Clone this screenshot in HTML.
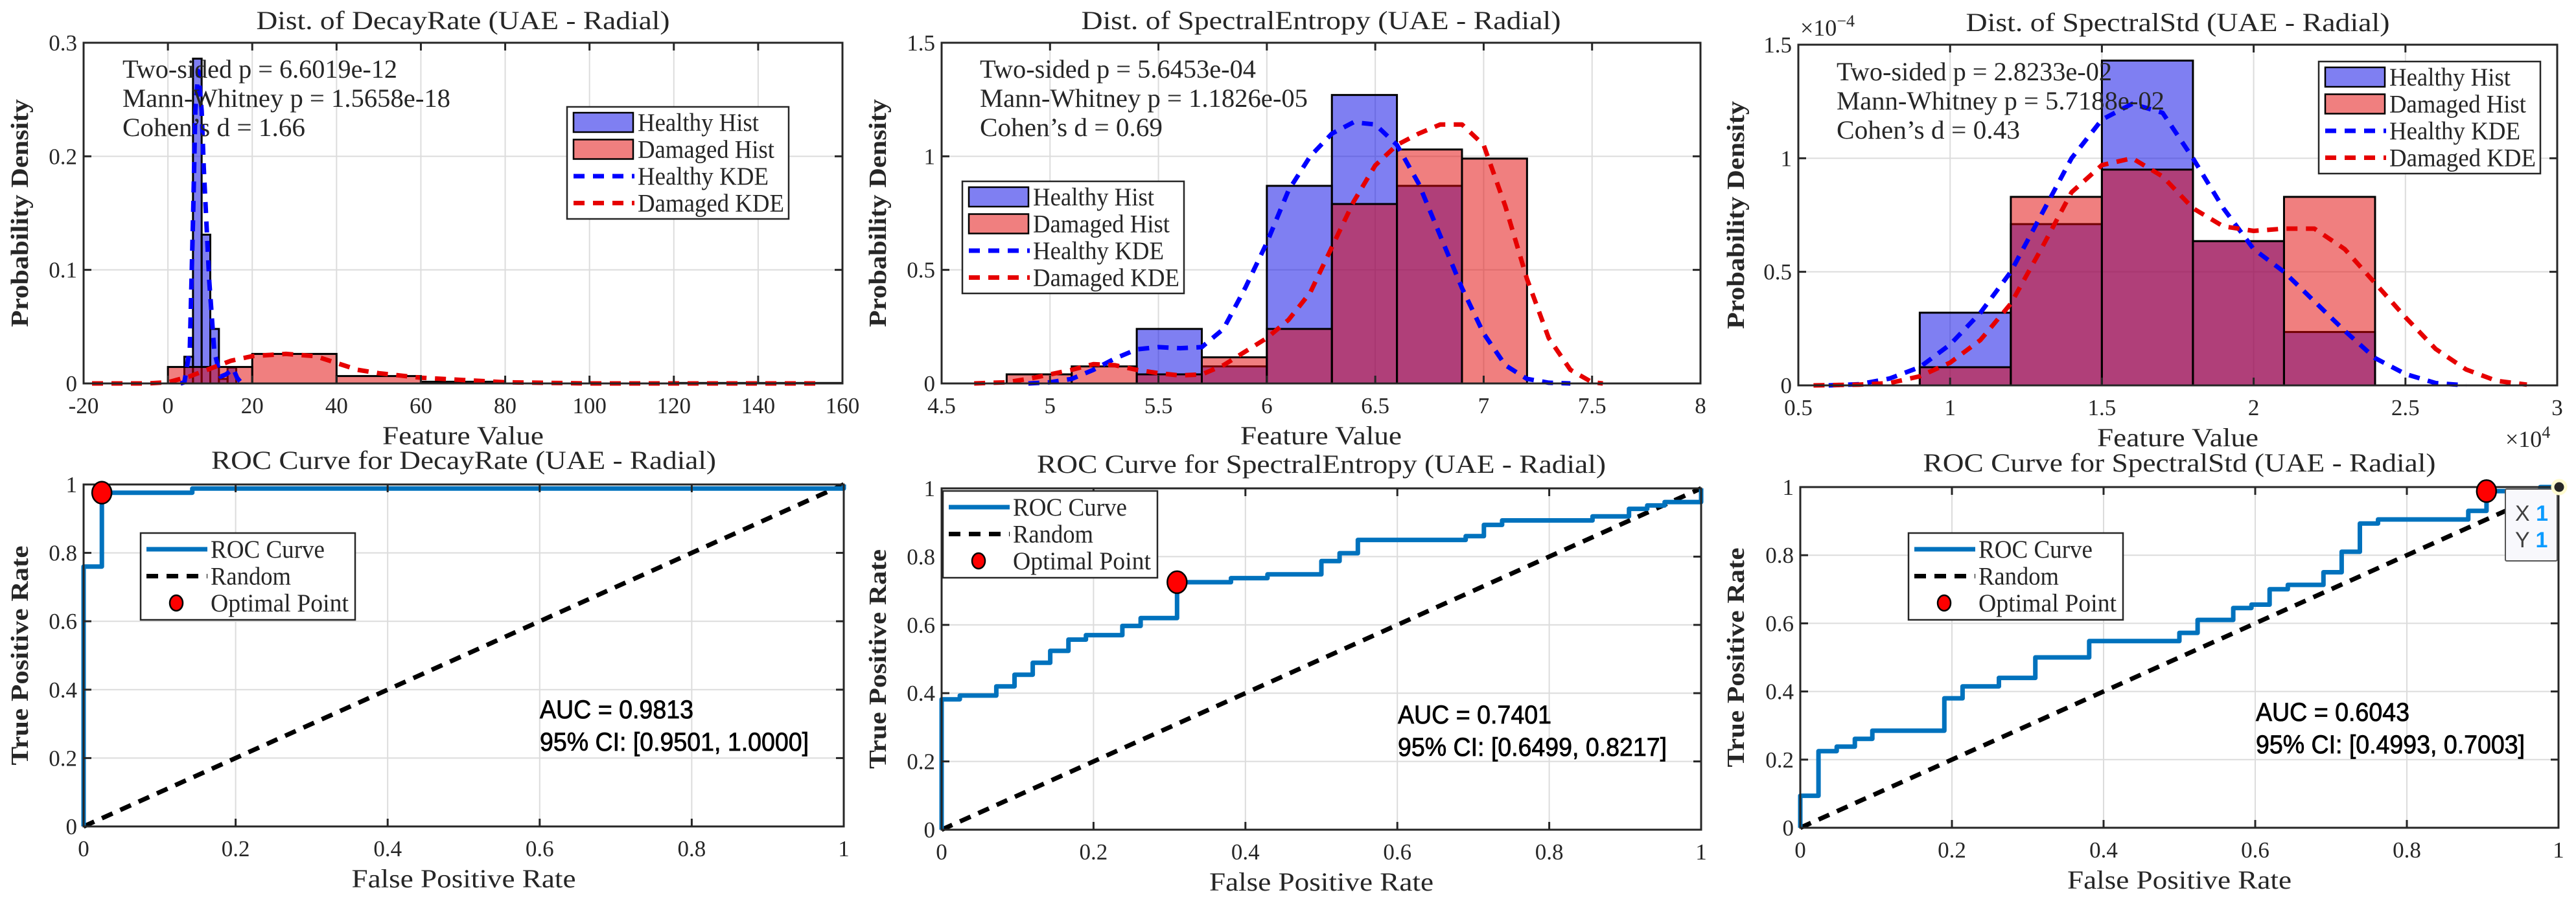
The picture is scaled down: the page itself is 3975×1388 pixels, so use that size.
<!DOCTYPE html>
<html><head><meta charset="utf-8">
<style>
html,body{margin:0;padding:0;background:#fff;}
svg{display:block;}
text{font-family:"Liberation Serif","DejaVu Serif",serif;fill:#262626;}
.sans{font-family:"Liberation Sans","DejaVu Sans",sans-serif;fill:#000;}
</style></head>
<body>
<svg id="fig" width="3975" height="1388" viewBox="0 0 3975 1388" xmlns="http://www.w3.org/2000/svg"></svg>
<script>
// ---------- DATA ----------
// Panel 1: DecayRate
const decayHealthyEdges = [3.9, 5.95, 8.0, 10.05, 12.1, 14.15, 16.2];
const decayHealthyHeights = [0.0235, 0.286, 0.131, 0.048, 0.004, 0.014];
const decayDamagedEdges = [0, 20, 40, 60, 80, 100, 120, 140, 160];
const decayDamagedHeights = [0.0145, 0.026, 0.0065, 0.0015, 0, 0, 0.0004, 0.0004];
const decayHealthyKdeX = [3, 3.9, 5.2, 6.0, 6.5, 7.2, 8.0, 8.5, 9.8, 11, 12.5, 13.8, 15.5, 16.4, 17.5];
const decayHealthyKdeY = [0, 0.001, 0.03, 0.15, 0.24, 0.275, 0.24, 0.19, 0.09, 0.028, 0.006, 0.008, 0.013, 0.005, 0];
const decayDamagedKdeX = [-18, -5, 0, 5, 10, 15, 20, 28, 35, 40, 45, 50, 55, 60, 70, 80, 100, 130, 155];
const decayDamagedKdeY = [0, 0, 0.001, 0.006, 0.013, 0.02, 0.024, 0.026, 0.024, 0.018, 0.012, 0.009, 0.007, 0.005, 0.003, 0.001, 0, 0, 0];
// Panel 2: SpectralEntropy
const entropyEdges = [4.8, 5.1, 5.4, 5.7, 6.0, 6.3, 6.6, 6.9, 7.2];
const entropyHealthyHeights = [0, 0, 0.24, 0.075, 0.87, 1.27, 0.87, 0];
const entropyDamagedHeights = [0.04, 0.075, 0.04, 0.115, 0.24, 0.79, 1.03, 0.99];
const entropyHealthyKdeX = [4.9, 5.0, 5.1, 5.2, 5.3, 5.4, 5.5, 5.6, 5.7, 5.8, 5.9, 6.0, 6.1, 6.2, 6.3, 6.4, 6.5, 6.6, 6.7, 6.8, 6.9, 7.0, 7.1, 7.2, 7.3, 7.4];
const entropyHealthyKdeY = [0, 0.005, 0.02, 0.06, 0.11, 0.15, 0.16, 0.155, 0.16, 0.24, 0.42, 0.62, 0.85, 1.0, 1.1, 1.15, 1.14, 1.05, 0.88, 0.65, 0.42, 0.22, 0.08, 0.02, 0.003, 0];
const entropyDamagedKdeX = [4.65, 4.8, 4.9, 5.0, 5.1, 5.2, 5.3, 5.4, 5.5, 5.6, 5.7, 5.8, 5.9, 6.0, 6.1, 6.2, 6.3, 6.4, 6.5, 6.6, 6.7, 6.8, 6.9, 7.0, 7.1, 7.2, 7.3, 7.4, 7.5, 7.55];
const entropyDamagedKdeY = [0, 0.005, 0.02, 0.04, 0.06, 0.085, 0.08, 0.06, 0.045, 0.035, 0.04, 0.08, 0.14, 0.2, 0.28, 0.4, 0.6, 0.8, 0.96, 1.05, 1.1, 1.14, 1.14, 1.05, 0.78, 0.46, 0.2, 0.06, 0.005, 0];
// Panel 3: SpectralStd (x in 1e4, y in 1e-4)
const stdEdges = [0.9, 1.2, 1.5, 1.8, 2.1, 2.4];
const stdHealthyHeights = [0.32, 0.71, 1.43, 0.635, 0.235];
const stdDamagedHeights = [0.08, 0.83, 0.95, 0.635, 0.83];
const stdHealthyKdeX = [0.6, 0.7, 0.8, 0.9, 1.0, 1.1, 1.2, 1.3, 1.4, 1.5, 1.6, 1.7, 1.8, 1.9, 2.0, 2.1, 2.2, 2.3, 2.4, 2.5, 2.6, 2.7];
const stdHealthyKdeY = [0, 0.005, 0.03, 0.08, 0.18, 0.32, 0.5, 0.75, 1.0, 1.17, 1.24, 1.2, 1.0, 0.78, 0.6, 0.5, 0.37, 0.24, 0.12, 0.05, 0.01, 0];
const stdDamagedKdeX = [0.55, 0.7, 0.8, 0.9, 1.0, 1.1, 1.2, 1.3, 1.4, 1.5, 1.6, 1.7, 1.8, 1.9, 2.0, 2.1, 2.2, 2.3, 2.4, 2.5, 2.6, 2.7, 2.8, 2.9];
const stdDamagedKdeY = [0, 0.003, 0.01, 0.04, 0.1, 0.2, 0.36, 0.6, 0.85, 0.97, 1.0, 0.92, 0.78, 0.7, 0.68, 0.69, 0.69, 0.6, 0.45, 0.3, 0.16, 0.07, 0.02, 0.003];
// ROC curves
const rocDecayFpr = [0, 0, 0.024, 0.024, 0.143, 0.143, 1, 1];
const rocDecayTpr = [0, 0.76, 0.76, 0.976, 0.976, 0.988, 0.988, 1];
const rocDecayOpt = [0.024, 0.976];
const rocEntropyFpr = [0, 0, 0.024, 0.024, 0.072, 0.072, 0.096, 0.096, 0.12, 0.12, 0.143, 0.143, 0.167, 0.167, 0.19, 0.19, 0.238, 0.238, 0.262, 0.262, 0.31, 0.31, 0.381, 0.381, 0.429, 0.429, 0.5, 0.5, 0.524, 0.524, 0.548, 0.548, 0.69, 0.69, 0.714, 0.714, 0.738, 0.738, 0.857, 0.857, 0.905, 0.905, 0.929, 0.929, 0.952, 0.952, 1, 1];
const rocEntropyTpr = [0, 0.382, 0.382, 0.393, 0.393, 0.42, 0.42, 0.454, 0.454, 0.489, 0.489, 0.524, 0.524, 0.557, 0.557, 0.57, 0.57, 0.597, 0.597, 0.62, 0.62, 0.725, 0.725, 0.737, 0.737, 0.748, 0.748, 0.787, 0.787, 0.81, 0.81, 0.849, 0.849, 0.86, 0.86, 0.893, 0.893, 0.906, 0.906, 0.918, 0.918, 0.94, 0.94, 0.95, 0.95, 0.96, 0.96, 1];
const rocEntropyOpt = [0.31, 0.725];
const rocStdFpr = [0, 0, 0.024, 0.024, 0.048, 0.048, 0.072, 0.072, 0.095, 0.095, 0.19, 0.19, 0.214, 0.214, 0.262, 0.262, 0.31, 0.31, 0.381, 0.381, 0.5, 0.5, 0.524, 0.524, 0.571, 0.571, 0.595, 0.595, 0.619, 0.619, 0.643, 0.643, 0.69, 0.69, 0.714, 0.714, 0.738, 0.738, 0.762, 0.762, 0.881, 0.881, 0.905, 0.905, 0.976, 0.976, 1];
const rocStdTpr = [0, 0.094, 0.094, 0.225, 0.225, 0.238, 0.238, 0.261, 0.261, 0.285, 0.285, 0.38, 0.38, 0.415, 0.415, 0.44, 0.44, 0.5, 0.5, 0.548, 0.548, 0.572, 0.572, 0.61, 0.61, 0.645, 0.645, 0.655, 0.655, 0.7, 0.7, 0.713, 0.713, 0.75, 0.75, 0.81, 0.81, 0.893, 0.893, 0.905, 0.905, 0.93, 0.93, 0.988, 0.988, 1, 1];
const rocStdOpt = [0.905, 0.988];
// Tick values
const decayXTicks = [-20, 0, 20, 40, 60, 80, 100, 120, 140, 160];
const decayYTicks = [0, 0.1, 0.2, 0.3];
const entropyXTicks = [4.5, 5, 5.5, 6, 6.5, 7, 7.5, 8];
const entropyYTicks = [0, 0.5, 1, 1.5];
const stdXTicks = [0.5, 1, 1.5, 2, 2.5, 3];
const stdYTicks = [0, 0.5, 1, 1.5];
const rocTicks = [0, 0.2, 0.4, 0.6, 0.8, 1];

// ---------- DRAWING ----------
const NS = 'http://www.w3.org/2000/svg';
const fig = document.getElementById('fig');
function mk(tag, attrs, parent) {
  const e = document.createElementNS(NS, tag);
  for (const k in attrs) e.setAttribute(k, attrs[k]);
  (parent || fig).appendChild(e);
  return e;
}
function txt(parent, x, y, s, size, anchor, extra) {
  const t = mk('text', Object.assign({x: x, y: y, 'font-size': size, 'text-anchor': anchor || 'start'}, extra || {}), parent);
  t.textContent = s;
  return t;
}
function fmt(v) { return String(+v.toFixed(4)); }

function makeAxes(name, g) {
  const grp = mk('g', {});
  
  
  const sx = v => g.L + (v - g.xmin) / (g.xmax - g.xmin) * (g.R - g.L);
  const sy = v => g.B - (v - g.ymin) / (g.ymax - g.ymin) * (g.B - g.T);
  g.xt.forEach(v => {
    const l = mk('line', {x1: sx(v), x2: sx(v), y1: g.T, y2: g.B, stroke: '#dcdcdc', 'stroke-width': 2}, grp);
    
    
  });
  g.yt.forEach(v => {
    const l = mk('line', {x1: g.L, x2: g.R, y1: sy(v), y2: sy(v), stroke: '#dcdcdc', 'stroke-width': 2}, grp);
    
    
  });
  const plot = mk('g', {}, grp);
  
  
  const top = mk('g', {}, grp);
  
  
  return {grp, plot, top, sx, sy, g};
}
function finishAxes(ax, labels) {
  const g = ax.g, top = ax.top, sx = ax.sx, sy = ax.sy;
  const box = mk('rect', {x: g.L, y: g.T, width: g.R - g.L, height: g.B - g.T, fill: 'none', stroke: '#262626', 'stroke-width': 3}, top);
  
  
  g.xt.forEach(v => {
    mk('line', {x1: sx(v), x2: sx(v), y1: g.B, y2: g.B - 12, stroke: '#262626', 'stroke-width': 3}, top);
    mk('line', {x1: sx(v), x2: sx(v), y1: g.T, y2: g.T + 12, stroke: '#262626', 'stroke-width': 3}, top);
    const t = txt(top, sx(v), g.B + 46, fmt(v), 35, 'middle');
    
    
  });
  g.yt.forEach(v => {
    mk('line', {x1: g.L, x2: g.L + 12, y1: sy(v), y2: sy(v), stroke: '#262626', 'stroke-width': 3}, top);
    mk('line', {x1: g.R, x2: g.R - 12, y1: sy(v), y2: sy(v), stroke: '#262626', 'stroke-width': 3}, top);
    const t = txt(top, g.L - 10, sy(v) + 12, fmt(v), 35, 'end');
    
    
  });
  const cx = (g.L + g.R) / 2;
  const ti = txt(top, cx, g.T - (g.T > 400 ? 24 : 21), labels.title, 40, 'middle', {textLength: labels.tw, lengthAdjust: 'spacingAndGlyphs'});
  
  
  const xl = txt(top, cx, g.B + 94, labels.xlabel, 40, 'middle', {textLength: labels.xw, lengthAdjust: 'spacingAndGlyphs'});
  
  
  const ycx = labels.ylx, ycy = (g.T + g.B) / 2;
  const yl = txt(top, ycx, ycy, labels.ylabel, 38, 'middle', {transform: 'rotate(-90 ' + ycx + ' ' + ycy + ')', 'font-weight': 'bold', textLength: labels.yw, lengthAdjust: 'spacingAndGlyphs', dy: 13});
  
  
}
function hist(ax, edges, heights, fill, name) {
  heights.forEach((h, i) => {
    if (h <= 0) return;
    const x0 = ax.sx(edges[i]), x1 = ax.sx(edges[i + 1]), y = ax.sy(h);
    const r = mk('rect', {x: x0, y: y, width: x1 - x0, height: ax.sy(0) - y, fill: fill, 'fill-opacity': 0.5, stroke: '#000', 'stroke-width': 3}, ax.plot);
    
    
  });
}
function line(ax, xs, ys, color, dash, name, w) {
  const d = xs.map((x, i) => (i ? 'L' : 'M') + ax.sx(x).toFixed(1) + ',' + ax.sy(ys[i]).toFixed(1)).join(' ');
  const p = mk('path', {d: d, fill: 'none', stroke: color, 'stroke-width': w || 7, 'stroke-dasharray': dash || 'none', 'stroke-linejoin': 'round'}, ax.plot);
  
  
  return p;
}
function annot(parent, x, y, lines, widths) {
  lines.forEach((s, i) => {
    const t = txt(parent, x, y + i * 45, s, 40, 'start', {textLength: widths[i], lengthAdjust: 'spacingAndGlyphs'});
    
    
  });
}
function histLegend(parent, L, T) {
  const lg = mk('g', {}, parent);
  
  
  mk('rect', {x: L, y: T, width: 342, height: 173, fill: '#fff', stroke: '#262626', 'stroke-width': 2.5}, lg);
  const items = [['Healthy Hist', 'patch', '#0000e6', 187], ['Damaged Hist', 'patch', '#e10000', 211], ['Healthy KDE', 'line', '#0000ff', 202], ['Damaged KDE', 'line', '#e60000', 226]];
  items.forEach((it, i) => {
    const cy = T + 24 + i * 41.5;
    const e = mk('g', {}, lg);
    
    
    if (it[1] === 'patch') {
      mk('rect', {x: L + 10, y: cy - 15, width: 92, height: 30, fill: it[2], 'fill-opacity': 0.5, stroke: '#000', 'stroke-width': 2.5}, e);
    } else {
      mk('line', {x1: L + 10, x2: L + 104, y1: cy, y2: cy, stroke: it[2], 'stroke-width': 7, 'stroke-dasharray': '17,13'}, e);
    }
    txt(e, L + 109, cy + 13, it[0], 39, 'start', {textLength: it[3], lengthAdjust: 'spacingAndGlyphs'});
  });
}
function rocLegend(parent, L, T) {
  const lg = mk('g', {}, parent);
  
  
  mk('rect', {x: L, y: T, width: 331, height: 134, fill: '#fff', stroke: '#262626', 'stroke-width': 2.5}, lg);
  const items = [['ROC Curve', 176], ['Random', 124], ['Optimal Point', 213]];
  items.forEach((it, i) => {
    const cy = T + 25 + i * 41.5;
    const e = mk('g', {}, lg);
    
    
    if (i === 0) mk('line', {x1: L + 9, x2: L + 103, y1: cy, y2: cy, stroke: '#0072bd', 'stroke-width': 7}, e);
    if (i === 1) mk('line', {x1: L + 9, x2: L + 103, y1: cy, y2: cy, stroke: '#000', 'stroke-width': 7, 'stroke-dasharray': '18,13'}, e);
    if (i === 2) mk('ellipse', {cx: L + 55, cy: cy, rx: 10, ry: 12, fill: '#ff0000', stroke: '#000', 'stroke-width': 2.5}, e);
    txt(e, L + 108, cy + 13, it[0], 39, 'start', {textLength: it[1], lengthAdjust: 'spacingAndGlyphs'});
  });
}
function auc(parent, x, y, a, b, w1) {
  const t1 = txt(parent, x, y, a, 40, 'start', {'class': 'sans', textLength: w1, lengthAdjust: 'spacingAndGlyphs', 'stroke': '#000', 'stroke-width': 0.8});
  
  
  const t2 = txt(parent, x, y + 50, b, 40, 'start', {'class': 'sans', textLength: 415, lengthAdjust: 'spacingAndGlyphs', 'stroke': '#000', 'stroke-width': 0.8});
  
  
}
function roc(name, g, fpr, tpr, opt, labels, legXY, aucXY, aucText, ciText) {
  const ax = makeAxes(name, g);
  const diag = mk('line', {x1: ax.sx(0), y1: ax.sy(0), x2: ax.sx(1), y2: ax.sy(1), stroke: '#000', 'stroke-width': 7, 'stroke-dasharray': '18,13'}, ax.plot);
  
  
  line(ax, fpr, tpr, '#0072bd', null, 'roc-curve', 7);
  finishAxes(ax, labels);
  const o = mk('ellipse', {cx: ax.sx(opt[0]), cy: ax.sy(opt[1]), rx: 15, ry: 17, fill: '#ff0000', stroke: '#000', 'stroke-width': 2.5}, ax.grp);
  
  
  rocLegend(ax.grp, legXY[0], legXY[1]);
  auc(ax.grp, aucXY[0], aucXY[1], aucText, ciText, 237);
  return ax;
}

// ----- Panel 1 -----
const a1 = makeAxes('decayrate-distribution', {L: 129, R: 1300, T: 66, B: 592, xmin: -20, xmax: 160, ymin: 0, ymax: 0.3, xt: decayXTicks, yt: decayYTicks});
hist(a1, decayHealthyEdges, decayHealthyHeights, '#0000e6', 'healthy-hist-bar');
hist(a1, decayDamagedEdges, decayDamagedHeights, '#e10000', 'damaged-hist-bar');
line(a1, decayHealthyKdeX, decayHealthyKdeY, '#0000ff', '17,13', 'healthy-kde-line');
line(a1, decayDamagedKdeX, decayDamagedKdeY, '#e60000', '17,13', 'damaged-kde-line');
finishAxes(a1, {title: 'Dist. of DecayRate (UAE - Radial)', tw: 638, xlabel: 'Feature Value', xw: 249, ylabel: 'Probability Density', yw: 352, ylx: 30});
annot(a1.grp, 189, 120, ['Two-sided p = 6.6019e-12', 'Mann-Whitney p = 1.5658e-18', 'Cohen\u2019s d = 1.66'], [424, 506, 282]);
histLegend(a1.grp, 875, 165);

// ----- Panel 2 -----
const a2 = makeAxes('spectralentropy-distribution', {L: 1453, R: 2624, T: 66, B: 592, xmin: 4.5, xmax: 8, ymin: 0, ymax: 1.5, xt: entropyXTicks, yt: entropyYTicks});
hist(a2, entropyEdges, entropyHealthyHeights, '#0000e6', 'healthy-hist-bar');
hist(a2, entropyEdges, entropyDamagedHeights, '#e10000', 'damaged-hist-bar');
line(a2, entropyHealthyKdeX, entropyHealthyKdeY, '#0000ff', '17,13', 'healthy-kde-line');
line(a2, entropyDamagedKdeX, entropyDamagedKdeY, '#e60000', '17,13', 'damaged-kde-line');
finishAxes(a2, {title: 'Dist. of SpectralEntropy (UAE - Radial)', tw: 740, xlabel: 'Feature Value', xw: 249, ylabel: 'Probability Density', yw: 352, ylx: 1354});
annot(a2.grp, 1512, 120, ['Two-sided p = 5.6453e-04', 'Mann-Whitney p = 1.1826e-05', 'Cohen\u2019s d = 0.69'], [426, 506, 282]);
histLegend(a2.grp, 1485, 280);

// ----- Panel 3 -----
const a3 = makeAxes('spectralstd-distribution', {L: 2775, R: 3946, T: 69, B: 595, xmin: 0.5, xmax: 3, ymin: 0, ymax: 1.5, xt: stdXTicks, yt: stdYTicks});
hist(a3, stdEdges, stdHealthyHeights, '#0000e6', 'healthy-hist-bar');
hist(a3, stdEdges, stdDamagedHeights, '#e10000', 'damaged-hist-bar');
line(a3, stdHealthyKdeX, stdHealthyKdeY, '#0000ff', '17,13', 'healthy-kde-line');
line(a3, stdDamagedKdeX, stdDamagedKdeY, '#e60000', '17,13', 'damaged-kde-line');
finishAxes(a3, {title: 'Dist. of SpectralStd (UAE - Radial)', tw: 654, xlabel: 'Feature Value', xw: 249, ylabel: 'Probability Density', yw: 352, ylx: 2678});
annot(a3.grp, 2834, 124, ['Two-sided p = 2.8233e-02', 'Mann-Whitney p = 5.7188e-02', 'Cohen\u2019s d = 0.43'], [425, 506, 283]);
histLegend(a3.grp, 3578, 95);

// exponent labels
const e1 = mk('text', {x: 2778, y: 55, 'font-size': 36});


e1.innerHTML = '\u00d710<tspan dy="-14" font-size="26">\u22124</tspan>';
const e2 = mk('text', {x: 3866, y: 690, 'font-size': 36});


e2.innerHTML = '\u00d710<tspan dy="-14" font-size="26">4</tspan>';

// ----- ROC panels -----
const r1 = roc('roc-decayrate', {L: 129, R: 1302, T: 748, B: 1276, xmin: 0, xmax: 1, ymin: 0, ymax: 1, xt: rocTicks, yt: rocTicks}, rocDecayFpr, rocDecayTpr, rocDecayOpt,
  {title: 'ROC Curve for DecayRate (UAE - Radial)', tw: 779, xlabel: 'False Positive Rate', xw: 346, ylabel: 'True Positive Rate', yw: 339, ylx: 30},
  [217, 823], [833, 1109], 'AUC = 0.9813', '95% CI: [0.9501, 1.0000]');
const r2 = roc('roc-spectralentropy', {L: 1453, R: 2625, T: 754, B: 1281, xmin: 0, xmax: 1, ymin: 0, ymax: 1, xt: rocTicks, yt: rocTicks}, rocEntropyFpr, rocEntropyTpr, rocEntropyOpt,
  {title: 'ROC Curve for SpectralEntropy (UAE - Radial)', tw: 878, xlabel: 'False Positive Rate', xw: 346, ylabel: 'True Positive Rate', yw: 339, ylx: 1354},
  [1455, 758], [2157, 1117], 'AUC = 0.7401', '95% CI: [0.6499, 0.8217]');
const r3 = roc('roc-spectralstd', {L: 2778, R: 3948, T: 752, B: 1278, xmin: 0, xmax: 1, ymin: 0, ymax: 1, xt: rocTicks, yt: rocTicks}, rocStdFpr, rocStdTpr, rocStdOpt,
  {title: 'ROC Curve for SpectralStd (UAE - Radial)', tw: 791, xlabel: 'False Positive Rate', xw: 346, ylabel: 'True Positive Rate', yw: 339, ylx: 2678},
  [2945, 823], [3481, 1113], 'AUC = 0.6043', '95% CI: [0.4993, 0.7003]');

// data tip on panel 3
const tip = mk('g', {});


tip.innerHTML = '<rect x="3866" y="755" width="80" height="111" rx="2" fill="#f8f8fc" stroke="#555" stroke-width="2"/>' +
  '<text class="sans" x="3881" y="804" font-size="34" style="fill:#404040">X <tspan style="fill:#0a9bff;font-weight:bold">1</tspan></text>' +
  '<text class="sans" x="3881" y="845" font-size="34" style="fill:#404040">Y <tspan style="fill:#0a9bff;font-weight:bold">1</tspan></text>' +
  '<circle cx="3949" cy="752" r="10" fill="#262626" stroke="#fffbd0" stroke-width="5"/>';
</script>
</body></html>
